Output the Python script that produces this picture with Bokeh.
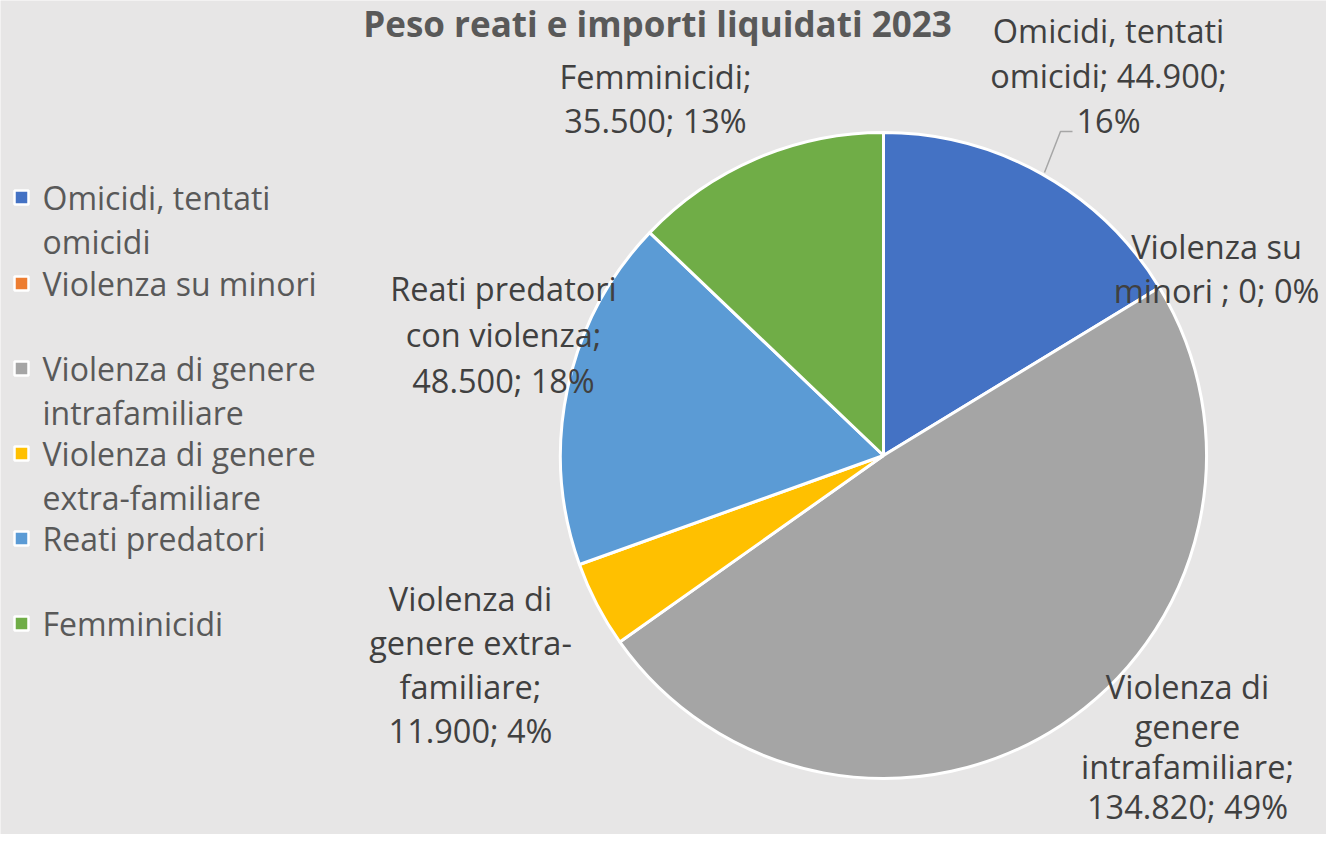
import math
from bokeh.plotting import figure
from bokeh.models import Range1d, ColumnDataSource
from bokeh.core.properties import value
from bokeh.embed import file_html
from bokeh.resources import INLINE

# ---- data ----
categories = ["Omicidi, tentati omicidi", "Violenza su minori ", "Violenza di genere intrafamiliare",
              "Violenza di genere extra-familiare", "Reati predatori con violenza", "Femminicidi"]
legend_names = ["Omicidi, tentati omicidi", "Violenza su minori", "Violenza di genere intrafamiliare",
                "Violenza di genere extra-familiare", "Reati predatori", "Femminicidi"]
values = [44900, 0, 134820, 11900, 48500, 35500]
colors = ["#4472c4", "#ed7d31", "#a5a5a5", "#ffc000", "#5b9bd5", "#70ad47"]
title = "Peso reati e importi liquidati 2023"

# label line breaks (word wrapping as in the original)
label_lines = [
    ["Omicidi, tentati", "omicidi; {v}; ", "{p}"],
    ["Violenza su", "minori ; {v}; {p}"],
    ["Violenza di", "genere", "intrafamiliare;", "{v}; {p}"],
    ["Violenza di", "genere extra-", "familiare;", "{v}; {p}"],
    ["Reati predatori", "con violenza;", "{v}; {p}"],
    ["Femminicidi;", "{v}; {p}"],
]
legend_lines = [["Omicidi, tentati", "omicidi"], ["Violenza su minori"],
                ["Violenza di genere", "intrafamiliare"], ["Violenza di genere", "extra-familiare"],
                ["Reati predatori"], ["Femminicidi"]]

# ---- layout (reference pixel coordinates) ----
W, H = 1326, 834
cx, cy, R = 883, 455, 323
label_x = [1108, 1216, 1187, 470, 503, 655]
label_y0 = [30, 246, 686, 598, 288, 76]
label_dy = [45, 44, 40, 44, 46, 44]
legend_y = [197, 283, 368, 453, 538, 623]
legend_dy = 44

def fy(y):
    return H - y

total = sum(values)

def fmt(v):
    return f"{v:,}".replace(",", ".")

p = figure(width=W, height=H, output_backend="svg", toolbar_location=None,
           x_range=Range1d(0, W), y_range=Range1d(0, H), min_border=0)
p.axis.visible = False
p.grid.visible = False
p.outline_line_color = None
p.background_fill_color = "#e7e6e6"
p.border_fill_color = "#e7e6e6"

# wedges, clockwise from 12 o'clock
cum = 0.0
ws = dict(start=[], end=[], color=[])
for v, c in zip(values, colors):
    f0 = cum / total
    cum += v
    f1 = cum / total
    if v > 0:
        ws["start"].append(math.pi / 2 - 2 * math.pi * f1)
        ws["end"].append(math.pi / 2 - 2 * math.pi * f0)
        ws["color"].append(c)
src = ColumnDataSource(ws)
p.wedge(x=cx, y=fy(cy), radius=R, start_angle="start", end_angle="end",
        fill_color="color", line_color="white", line_width=3, source=src)

# leader line for first label
p.line(x=[1044, 1060, 1072], y=[fy(172), fy(131), fy(131)], line_color="#a6a6a6", line_width=1.5)

# data labels
tx, ty, tt = [], [], []
for i, v in enumerate(values):
    pct = f"{round(100 * v / total)}%"
    for j, line in enumerate(label_lines[i]):
        tx.append(label_x[i])
        ty.append(fy(label_y0[i] + j * label_dy[i]))
        tt.append(line.format(v=fmt(v), p=pct).rstrip())
p.text(x=tx, y=ty, text=tt, text_font=value("Open Sans"), text_font_size="32.5px",
       text_color="#404040", text_align="center", text_baseline="middle")

# title
p.text(x=[657], y=[fy(23)], text=[title], text_font=value("Open Sans"), text_font_size="35px",
       text_font_style="bold", text_color="#595959", text_align="center", text_baseline="middle")

# legend
p.rect(x=[21] * len(colors), y=[fy(y) for y in legend_y], width=14, height=14,
       width_units="screen", height_units="screen", fill_color=colors,
       line_color="white", line_width=2.5)
lx, ly, lt = [], [], []
for i, lines in enumerate(legend_lines):
    for j, line in enumerate(lines):
        lx.append(42)
        ly.append(fy(legend_y[i] + j * legend_dy))
        lt.append(line)
p.text(x=lx, y=ly, text=lt, text_font=value("Open Sans"), text_font_size="32px",
       text_color="#595959", text_align="left", text_baseline="middle")

open("out.html", "w").write(file_html(p, INLINE))
